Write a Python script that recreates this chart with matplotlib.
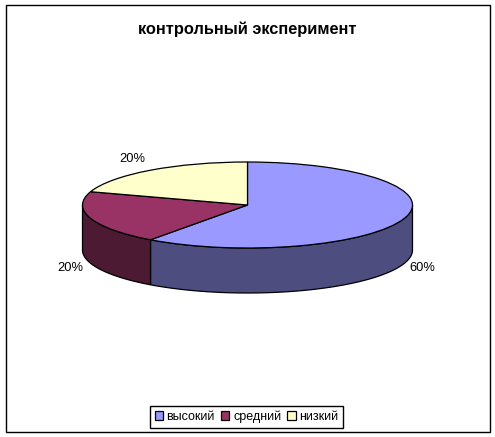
#!/usr/bin/env python
# -*- coding: utf-8 -*-
"""3D-looking pie: контрольный эксперимент"""

import numpy as np
import matplotlib as mpl
mpl.use("Agg")
import matplotlib.pyplot as plt
from matplotlib.patches import Polygon, Rectangle

title = 'контрольный эксперимент'
categories = ['высокий', 'средний', 'низкий']
shares = [60, 20, 20]
top_colors = ['#9999FF', '#993366', '#FFFFCC']
side_colors = ['#4D4D80', '#4D1A33', '#808066']

W, H = 495, 437
CX, CY = 247.5, 205.
RX, RY = 165., 43.
DEPTH = 45. / RY

plt.rcParams['font.family'] = ['Liberation Sans', 'DejaVu Sans']

fig = plt.figure(figsize=(W / 100., H / 100.), dpi=100)
ax = fig.add_axes([0, 0, 1, 1])

# top face, squashed afterwards through the axis limits
wedges, _ = ax.pie(shares, colors=top_colors, startangle=90, counterclock=False,
                   wedgeprops={'edgecolor': 'black', 'linewidth': 0.9, 'zorder': 3})
ax.set_aspect('auto')
ax.set_xlim(-CX / RX, (W - CX) / RX)
ax.set_ylim(-(H - CY) / RY, CY / RY)

# side walls: only the part of each slice facing the viewer (180..360 deg)
start = 90.
for share, color in zip(shares, side_colors):
    stop = start - 360. * share / sum(shares)
    for shift in (0, 360):
        a0 = max(stop + shift, 180.)
        a1 = min(start + shift, 360.)
        if a1 <= a0:
            continue
        t = np.radians(np.linspace(a0, a1, 80))
        x, y = np.cos(t), np.sin(t)
        pts = np.r_[np.c_[x, y], np.c_[x, y - DEPTH][::-1]]
        ax.add_patch(Polygon(pts, closed=True, facecolor=color, edgecolor='black',
                             linewidth=0.9, zorder=2))
    start = stop

def px(x, y):
    return (x / float(W), 1 - y / float(H))

fig.add_artist(Rectangle(px(5.5, 432), 484.5 / W, 427. / H, transform=fig.transFigure,
                         fill=False, edgecolor='black', linewidth=1.0))

fig.text(*px(247.5, 29), title, fontsize=11.8, fontweight='bold', ha='center', va='center')

for label, (lx, ly) in zip(shares, [(422.5, 268), (70, 268), (132.5, 159)]):
    fig.text(*px(lx, ly), '%d%%' % label, fontsize=9.3, ha='center', va='center')

leg = fig.legend(wedges, categories, loc='center', ncols=3,
                 bbox_to_anchor=px(246.5, 416.5), fontsize=9.0, frameon=True,
                 fancybox=False, framealpha=1, edgecolor='black',
                 handlelength=0.65, handleheight=0.65, handletextpad=0.3,
                 columnspacing=0.5, borderpad=0.38, borderaxespad=0)
leg.get_frame().set_linewidth(1.0)

fig.savefig('out.png', dpi=100)
